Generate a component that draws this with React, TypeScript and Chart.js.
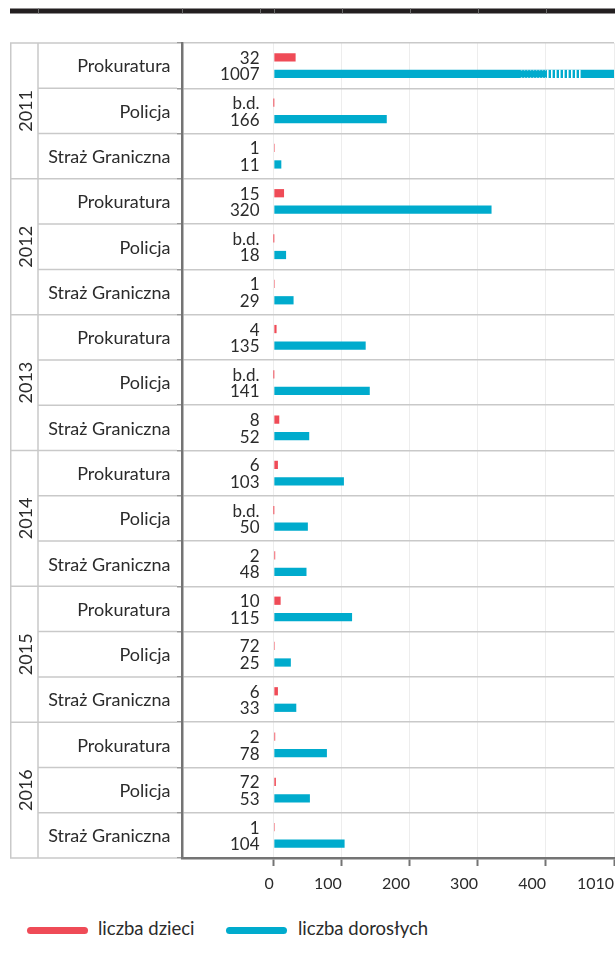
import { useEffect, useRef } from "react";
import { Chart, registerables } from "chart.js";

Chart.register(...registerables);

const years = ["2011", "2012", "2013", "2014", "2015", "2016"];
const institutions = ["Prokuratura", "Policja", "Straż Graniczna"];
const childLabels = ["32", "b.d.", "1", "15", "b.d.", "1", "4", "b.d.", "8", "6", "b.d.", "2", "10", "72", "6", "2", "72", "1"];
const childValues = [32, 0, 1, 15, 0, 1, 4, 0, 8, 6, 0, 2, 10, 1, 6, 2, 3, 1];
const adultLabels = ["1007", "166", "11", "320", "18", "29", "135", "141", "52", "103", "50", "48", "115", "25", "33", "78", "53", "104"];
const adultValues = [1007, 166, 11, 320, 18, 29, 135, 141, 52, 103, 50, 48, 115, 25, 33, 78, 53, 104];
const xTickValues = [0, 100, 200, 300, 400, 500];
const xTickLabels = ["0", "100", "200", "300", "400", "1010"];
const seriesNames = ["liczba dzieci", "liczba dorosłych"];

const RED = "#ef4b57";
const BLUE = "#00abcd";
const TEXT = "#2b2b2b";
const LINE = "#c9c9c9";
const AXIS = "#747474";
const FONT = "Lato, 'Noto Sans', sans-serif";

const rowLabels = years.flatMap((y) => institutions.map((i) => `${y} ${i}`));
const valueLabels = [childLabels, adultLabels];

const tablePlugin = {
  id: "tablePlugin",
  beforeDraw(chart: any) {
    const { ctx, chartArea } = chart;
    const { top, bottom, left } = chartArea;
    const n = rowLabels.length;
    const rowH = (bottom - top) / n;
    const xs = chart.scales.x;
    ctx.save();
    // top decorative dark bar
    ctx.fillStyle = "#231f20";
    ctx.fillRect(10, 8.5, chart.width - 10, 5);
    ctx.strokeStyle = "#6a6a6a";
    ctx.lineWidth = 1;
    const seps = [38, left, 260, ...xTickValues.slice(0, 5).map((v) => xs.getPixelForValue(v))];
    seps.forEach((sx) => {
      ctx.beginPath();
      ctx.moveTo(Math.round(sx) + 0.5, 8.5);
      ctx.lineTo(Math.round(sx) + 0.5, 13.5);
      ctx.stroke();
    });
    // table lines
    ctx.strokeStyle = LINE;
    ctx.lineWidth = 1.5;
    for (let i = 0; i <= n; i++) {
      const y = top + i * rowH;
      const x0 = i % 3 === 0 ? 10 : 38;
      ctx.beginPath();
      ctx.moveTo(x0, y);
      ctx.lineTo(left - 5, y);
      ctx.stroke();
    }
    [10.75, 38].forEach((x) => {
      ctx.beginPath();
      ctx.moveTo(x, top);
      ctx.lineTo(x, bottom);
      ctx.stroke();
    });
    // labels
    ctx.fillStyle = TEXT;
    ctx.font = `18px ${FONT}`;
    ctx.textAlign = "right";
    ctx.textBaseline = "middle";
    rowLabels.forEach((_, i) => {
      const y = top + (i + 0.5) * rowH;
      ctx.fillText(institutions[i % 3], 170.5, y + 1);
    });
    ctx.textAlign = "center";
    years.forEach((yr, g) => {
      const cy = top + (g * 3 + 1.5) * rowH;
      ctx.save();
      ctx.translate(25, cy);
      ctx.rotate(-Math.PI / 2);
      ctx.fillText(yr, 0, 1);
      ctx.restore();
    });
    ctx.restore();
  },
  afterDatasetsDraw(chart: any) {
    const { ctx } = chart;
    const xs = chart.scales.x;
    ctx.save();
    ctx.font = `17px ${FONT}`;
    ctx.textAlign = "right";
    ctx.textBaseline = "middle";
    chart.data.datasets.forEach((ds: any, di: number) => {
      const meta = chart.getDatasetMeta(di);
      meta.data.forEach((bar: any, i: number) => {
        ctx.fillStyle = TEXT;
        ctx.fillText(valueLabels[di][i], 259.5, bar.y + 1);
        const raw = ds.data[i];
        if (raw > xs.max) {
          const h = bar.height;
          const yTop = bar.y - h / 2;
          const a = xs.getPixelForValue(401.5);
          const b = xs.getPixelForValue(454);
          const c = xs.getPixelForValue(363);
          // light dashed edges
          ctx.fillStyle = "rgba(255,255,255,0.55)";
          for (let x = c; x < a - 1; x += 3) {
            ctx.fillRect(x, yTop, 1.5, 1);
            ctx.fillRect(x, yTop + h - 1, 1.5, 1);
          }
          // white stripes
          ctx.fillStyle = "#ffffff";
          for (let x = a; x < b; x += 4) {
            ctx.fillRect(x, yTop, 1.6, h);
          }
        }
      });
    });
    ctx.restore();
  },
};

export default function App() {
  const ref = useRef<HTMLCanvasElement | null>(null);
  useEffect(() => {
    if (!ref.current) return;
    const chart = new Chart(ref.current, {
      type: "bar",
      data: {
        labels: rowLabels,
        datasets: [
          {
            label: seriesNames[0],
            data: childValues,
            backgroundColor: RED,
            categoryPercentage: 0.729,
            barPercentage: 0.5,
            minBarLength: 1,
            clip: 0,
          } as any,
          {
            label: seriesNames[1],
            data: adultValues,
            backgroundColor: BLUE,
            categoryPercentage: 0.729,
            barPercentage: 0.5,
            minBarLength: 1,
            clip: 0,
          } as any,
        ],
      },
      options: {
        indexAxis: "y",
        animation: false,
        responsive: false,
        maintainAspectRatio: false,
        layout: { padding: { left: 177, top: 43, right: 1, bottom: 0 } },
        plugins: { legend: { display: false }, tooltip: { enabled: false } },
        scales: {
          x: {
            type: "linear",
            min: -135,
            max: 500,
            afterBuildTicks: (s: any) => {
              s.ticks = xTickValues.map((v) => ({ value: v }));
            },
            afterFit: (s: any) => {
              s.height = 42;
              s.paddingLeft = 0;
              s.paddingRight = 0;
            },
            ticks: {
              callback: (_v: any, i: number) => xTickLabels[i],
              align: "end",
              padding: 8,
              autoSkip: false,
              maxRotation: 0,
              color: TEXT,
              font: { family: FONT, size: 16 },
            },
            grid: { color: "#ededed", tickColor: AXIS, tickLength: 8, tickWidth: 2 },
            border: { color: AXIS, width: 2.5 },
          } as any,
          y: {
            afterFit: (s: any) => {
              s.width = 5;
              s.paddingTop = 0;
              s.paddingBottom = 0;
            },
            ticks: { display: false },
            grid: { offset: true, color: LINE, lineWidth: 1.5, tickColor: "#9a9a9a", tickLength: 5 },
            border: { color: AXIS, width: 2.5 },
          } as any,
        },
      },
      plugins: [tablePlugin],
    });
    return () => chart.destroy();
  }, []);

  const colors = [RED, BLUE];
  const lineLefts = [27, 226];
  const textLefts = [98, 298];
  return (
    <div style={{ position: "absolute", left: 0, top: 0, width: 615, height: 959, background: "#fff" }}>
      <canvas ref={ref} width={615} height={900} style={{ position: "absolute", left: 0, top: 0, width: 615, height: 900 }} />
      {seriesNames.map((name, i) => (
        <div key={name}>
          <div
            style={{
              position: "absolute",
              left: lineLefts[i],
              top: 926.5,
              width: 61,
              height: 7,
              borderRadius: 3.5,
              background: colors[i],
            }}
          />
          <div
            style={{
              position: "absolute",
              left: textLefts[i],
              top: 917,
              height: 22,
              lineHeight: "22px",
              fontFamily: FONT,
              fontSize: 18.5,
              color: TEXT,
              whiteSpace: "nowrap",
            }}
          >
            {name}
          </div>
        </div>
      ))}
    </div>
  );
}
